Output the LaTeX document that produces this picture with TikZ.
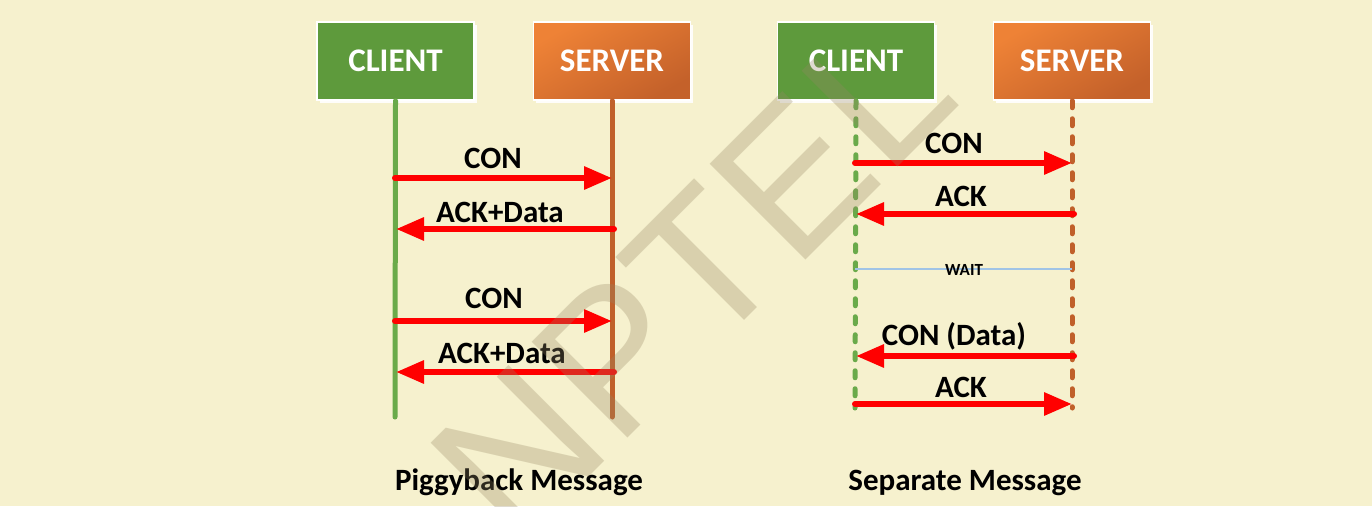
\documentclass[tikz,border=0pt]{standalone}
\usepackage{fontspec}
\setmainfont{Carlito}
\newfontfamily\wmfamily{Liberation Sans}
\usetikzlibrary{arrows.meta,shadows}
\definecolor{bg}{RGB}{246,241,206}
\definecolor{gbox}{RGB}{94,154,60}
\definecolor{gline}{RGB}{106,170,74}
\definecolor{otop}{RGB}{238,130,54}
\definecolor{obot}{RGB}{196,97,42}
\definecolor{oline}{RGB}{192,96,42}
\definecolor{msgred}{RGB}{255,0,0}
\definecolor{waitblue}{RGB}{160,196,230}
\definecolor{wmcol}{RGB}{150,135,100}
\newcommand\boxfnt{\fontsize{33}{38}\selectfont\bfseries}
\newcommand\lblfnt{\fontsize{31}{36}\selectfont\bfseries}
\newcommand\waitfnt{\fontsize{17}{20}\selectfont\bfseries}
\newcommand\wmfnt{\wmfamily\fontsize{197}{210}\selectfont}
\begin{document}
\begin{tikzpicture}[x=1pt,y=-1pt,
  actor/.style={minimum width=157pt, minimum height=78pt, inner sep=0pt,
    text=white, font=\boxfnt, draw=white, line width=1.5pt,
    drop shadow={shadow xshift=2.5pt, shadow yshift=-2.5pt, fill=white, opacity=0.9}},
  clientbox/.style={actor, fill=gbox},
  serverbox/.style={actor, top color=otop, bottom color=obot, shading angle=30},
  lifeg/.style={draw=gline, line width=5pt, line cap=round},
  lifeo/.style={draw=oline, line width=5pt, line cap=round},
  dashg/.style={lifeg, dash pattern=on 7pt off 11pt},
  dasho/.style={lifeo, dash pattern=on 7pt off 11pt},
  msg/.style={draw=msgred, line width=6pt, line cap=round,
    -{Triangle[length=28pt,width=22pt]}},
  lbl/.style={anchor=base, inner sep=0pt, font=\lblfnt, text=black},
  waitline/.style={draw=waitblue, line width=1.2pt},
]
\useasboundingbox[fill=bg] (0,0) rectangle (1372,506);

% ---------- Piggyback ----------
\node[clientbox] (c1) at (395.5,61) {CLIENT};
\node[serverbox] (s1) at (612,61) {SERVER};
\coordinate (c1end) at (395,417);
\coordinate (s1end) at (612,417);
\draw[lifeg] (c1.south) -- (c1end);
\draw[lifeo] (s1.south) -- (s1end);

\coordinate (c1a) at (395,178); \coordinate (s1a) at (612,178);
\coordinate (c1b) at (396,229); \coordinate (s1b) at (614,229);
\coordinate (c1c) at (395,321); \coordinate (s1c) at (612,321);
\coordinate (c1d) at (396,372); \coordinate (s1d) at (614,372);
\draw[msg] (c1a) -- (s1a);
\draw[msg] (s1b) -- (c1b);
\draw[msg] (c1c) -- (s1c);
\draw[msg] (s1d) -- (c1d);
\node[lbl] (l1a) at (493,168) {CON};
\node[lbl] (l1b) at (500,222) {ACK+Data};
\node[lbl] (l1c) at (494,308) {CON};
\node[lbl] (l1d) at (502,363) {ACK+Data};
\node[lbl] (t1) at (519,490) {Piggyback Message};

% ---------- Separate ----------
\node[clientbox] (c2) at (856,61) {CLIENT};
\node[serverbox] (s2) at (1072,61) {SERVER};
\coordinate (c2end) at (855,408);
\coordinate (s2end) at (1072,408);
\draw[dashg] (c2.south) -- (c2end);
\draw[dasho] (s2.south) -- (s2end);

\coordinate (c2a) at (855,163); \coordinate (s2a) at (1072,163);
\coordinate (c2b) at (856,214); \coordinate (s2b) at (1074,214);
\coordinate (c2w) at (855,269); \coordinate (s2w) at (1072,269);
\coordinate (c2c) at (856,356); \coordinate (s2c) at (1074,356);
\coordinate (c2d) at (855,404); \coordinate (s2d) at (1072,404);
\draw[msg] (c2a) -- (s2a);
\draw[msg] (s2b) -- (c2b);
\draw[waitline] (c2w) -- (s2w);
\draw[msg] (s2c) -- (c2c);
\draw[msg] (c2d) -- (s2d);
\node[lbl] (l2a) at (954,153) {CON};
\node[lbl] (l2b) at (961,206) {ACK};
\node[lbl, font=\waitfnt] (l2w) at (964,275) {WAIT};
\node[lbl] (l2c) at (954,345) {CON (Data)};
\node[lbl] (l2d) at (961,397) {ACK};
\node[lbl] (t2) at (965,490) {Separate Message};

% ---------- watermark ----------
\node[rotate=45, text=wmcol, text opacity=0.3, font=\wmfnt, inner sep=0pt] (wm) at (692,278) {NPTEL};
\end{tikzpicture}
\end{document}
